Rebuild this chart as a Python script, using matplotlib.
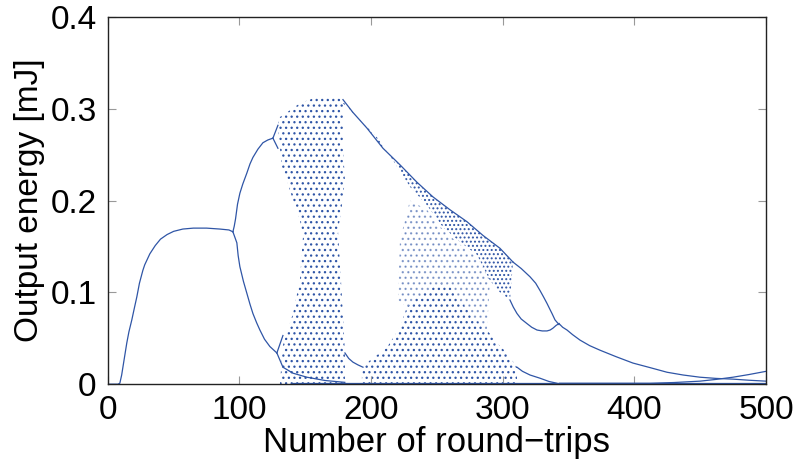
import matplotlib
matplotlib.use('Agg')
import matplotlib.pyplot as plt

plt.rcParams['font.family'] = ['Liberation Sans', 'DejaVu Sans']
plt.rcParams['hatch.linewidth'] = 0.9

blue = '#2f55a6'

# --- branch curves (round-trips, energy in mJ) ---
p1_x = [0, 7.6, 9.1, 10.5, 12.5, 14.4, 16.0, 18.2, 20.0, 22.0, 24.0, 26.6, 28.0, 31.9, 36.0,
        40.0, 45.0, 50.0, 57.0, 65.0, 75.0, 85.0, 92.0, 95.0]
p1_y = [0, 0, 0.001, 0.010, 0.028, 0.045, 0.057, 0.070, 0.082, 0.095, 0.110, 0.124, 0.130,
        0.142, 0.151, 0.158, 0.163, 0.1665, 0.169, 0.170, 0.170, 0.169, 0.168, 0.166]

p2_up_x = [95.0, 96.0, 97.0, 98.5, 100.3, 102.5, 105.6, 108.0, 110.2, 114.0, 117.8, 121.5, 125.4]
p2_up_y = [0.166, 0.172, 0.180, 0.196, 0.208, 0.218, 0.230, 0.240, 0.247, 0.256, 0.263, 0.266, 0.268]
p2_lo_x = [95.0, 96.5, 98.0, 99.0, 100.3, 103.0, 105.6, 108.0, 110.2, 113.0, 115.5, 119.0, 123.1, 128.4]
p2_lo_y = [0.166, 0.160, 0.154, 0.140, 0.128, 0.112, 0.099, 0.087, 0.077, 0.067, 0.059, 0.049, 0.041, 0.034]

p4_a_x = [125.4, 129.2]
p4_a_y = [0.268, 0.282]
p4_b_x = [125.4, 129.2]
p4_b_y = [0.268, 0.257]
p4_c_x = [128.4, 133.0]
p4_c_y = [0.034, 0.053]
p4_d_x = [128.4, 133.0, 140.6, 151.2, 165.0, 180.0]
p4_d_y = [0.034, 0.0185, 0.012, 0.0076, 0.004, 0.002]

# upper band after the first chaotic window
band_top_x = [178.6, 186.2, 196.8, 209.0, 221.9, 234.8, 247.0, 259.9, 272.8, 285.0, 297.9, 307.8]
band_top_y = [0.310, 0.296, 0.279, 0.257, 0.239, 0.220, 0.204, 0.190, 0.177, 0.162, 0.148, 0.133]
band_bot_x = [178.6, 191.5, 204.4, 216.6, 229.5, 242.4, 254.6, 267.5, 280.4, 290.3, 297.9, 305.5]
band_bot_y = [0.306, 0.288, 0.269, 0.244, 0.215, 0.195, 0.171, 0.155, 0.141, 0.113, 0.100, 0.0916]

q_up_x = [307.8, 314.0, 320.7, 325.0, 328.3, 331.0, 333.6, 336.0, 337.4, 339.7, 342.7]
q_up_y = [0.133, 0.126, 0.117, 0.110, 0.102, 0.095, 0.088, 0.081, 0.077, 0.070, 0.065]
q_lo_x = [305.5, 308.0, 310.8, 314.0, 318.4, 322.0, 326.0, 330.0, 333.6, 336.0, 338.1, 340.5, 342.7]
q_lo_y = [0.0916, 0.084, 0.077, 0.071, 0.066, 0.062, 0.059, 0.058, 0.058, 0.059, 0.061, 0.064, 0.066]

tail_x = [342.7, 345.5, 348.8, 353.0, 358.7, 366.0, 373.9, 386.0, 398.9, 412.0, 424.8, 437.0,
          449.8, 462.0, 474.9, 487.0, 500]
tail_y = [0.066, 0.062, 0.059, 0.054, 0.048, 0.042, 0.037, 0.030, 0.023, 0.018, 0.013, 0.010,
          0.0076, 0.0063, 0.0055, 0.0043, 0.0033]

rise_x = [343.0, 373.9, 411.9, 430.0, 449.8, 462.0, 474.9, 487.0, 500]
rise_y = [0.001, 0.001, 0.001, 0.0018, 0.0033, 0.0052, 0.0076, 0.0105, 0.014]

low2_x = [180.1, 183.0, 186.2, 190.0, 193.8]
low2_y = [0.034, 0.028, 0.024, 0.021, 0.0185]

low3_x = [310.8, 315.0, 320.7, 328.3, 335.0, 341.2]
low3_y = [0.0185, 0.014, 0.010, 0.0065, 0.003, 0.001]

floor_x = [140.0, 500]
floor_y = [0.001, 0.001]

# --- chaotic regions (outlines) ---
chaos1_x = [129.2, 130.7, 136.0, 145.9, 161.1, 172.5, 178.6, 178.6, 180.1, 177.1, 174.8, 176.3,
            178.6, 180.1, 180.1, 130.7, 133.0, 136.0, 140.6, 145.9, 148.2, 145.9, 140.6, 136.0,
            132.2, 130.7]
chaos1_y = [0.282, 0.291, 0.296, 0.306, 0.314, 0.313, 0.310, 0.258, 0.222, 0.186, 0.168, 0.132,
            0.077, 0.034, 0, 0, 0.0425, 0.056, 0.077, 0.113, 0.160, 0.179, 0.2005, 0.222,
            0.2365, 0.258]

chaos2_x = [193.0, 199.1, 212.0, 221.9, 227.2, 234.8, 242.4, 252.3, 259.9, 267.5, 277.4, 288.0,
            295.6, 303.2, 310.8, 310.8, 193.0]
chaos2_y = [0.017, 0.026, 0.040, 0.062, 0.084, 0.095, 0.102, 0.110, 0.106, 0.092, 0.073, 0.059,
            0.045, 0.034, 0.0185, 0, 0]

sparse_x = [220.4, 221.9, 229.5, 242.4, 254.6, 267.5, 280.4, 290.3, 288.0, 277.4, 267.5, 259.9,
            252.3, 242.4, 234.8, 227.2]
sparse_y = [0.0916, 0.157, 0.200, 0.190, 0.168, 0.152, 0.138, 0.113, 0.059, 0.073, 0.092, 0.106,
            0.110, 0.102, 0.095, 0.084]

xticks = [0, 100, 200, 300, 400, 500]
yticks = [0, 0.1, 0.2, 0.3, 0.4]
yticklabels = ['0', '0.1', '0.2', '0.3', '0.4']

fig = plt.figure(figsize=(7.93, 4.59), dpi=100)
ax = fig.add_axes([0.136, 0.163, 0.830, 0.800])

branches = [(p1_x, p1_y), (p2_up_x, p2_up_y), (p2_lo_x, p2_lo_y), (p4_a_x, p4_a_y),
            (p4_b_x, p4_b_y), (p4_c_x, p4_c_y), (p4_d_x, p4_d_y), (band_top_x, band_top_y),
            (q_up_x, q_up_y), (q_lo_x, q_lo_y), (tail_x, tail_y), (rise_x, rise_y),
            (low2_x, low2_y), (low3_x, low3_y), (floor_x, floor_y)]
for bx, by in branches:
    ax.plot(bx, by, color=blue, lw=0.9)

# chaotic bands as dotted texture
ax.fill(chaos1_x, chaos1_y, facecolor='none', edgecolor=blue, lw=0, hatch='...')
ax.fill(chaos2_x, chaos2_y, facecolor='none', edgecolor=blue, lw=0, hatch='...')
ax.fill(sparse_x, sparse_y, facecolor='none', edgecolor=blue, lw=0, hatch='...', alpha=0.5)
ax.fill(band_top_x + band_bot_x[::-1], band_top_y + band_bot_y[::-1],
        facecolor='none', edgecolor=blue, lw=0, hatch='....')

ax.set_xlim(0, 500)
ax.set_ylim(0, 0.4)
ax.set_xticks(xticks)
ax.set_yticks(yticks)
ax.set_yticklabels(yticklabels)
ax.tick_params(direction='in', length=6, width=0.8, color='#999999',
               top=True, right=True, labelsize=24, pad=8)
for s in ax.spines.values():
    s.set_linewidth(1.0)
    s.set_color('#222222')
ax.set_xlabel('Number of round\u2212trips', fontsize=25, labelpad=0)
ax.set_ylabel('Output energy [mJ]', fontsize=24, labelpad=4)

fig.savefig('out.png', dpi=100)
